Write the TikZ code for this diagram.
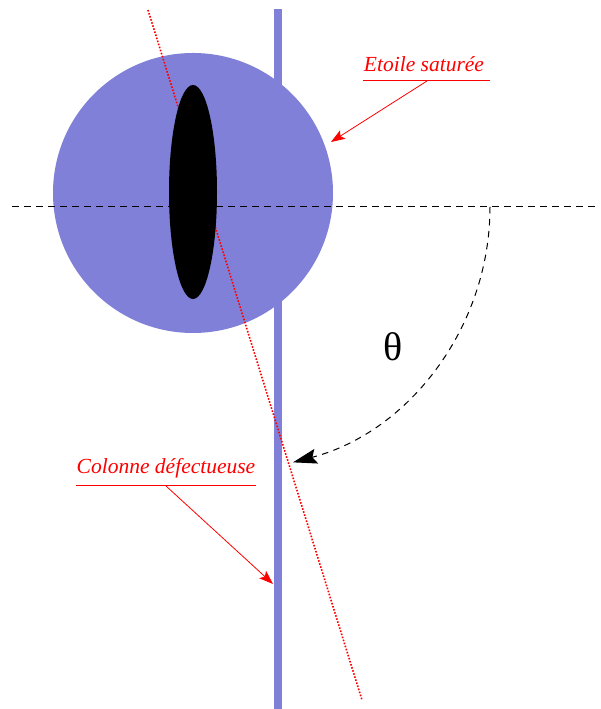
\documentclass[tikz,border=0pt]{standalone}
\usepackage{fontspec}
\setmainfont{Liberation Serif}
\usetikzlibrary{arrows.meta}
\definecolor{starblue}{RGB}{128,128,216}
\tikzset{
  lbl/.style={text=red, font=\fontsize{21.5}{24}\selectfont\itshape, inner sep=0pt},
  ulines/.style={draw=red, line width=1pt},
  pointer/.style={draw=red, line width=0.8pt, -{Stealth[length=14pt,width=10pt,inset=3pt]}},
  refline/.style={draw=black, line width=1pt, dash pattern=on 6.5pt off 5.5pt},
  defect/.style={draw=red, line width=1.6pt, dash pattern=on 1.6pt off 1.6pt}
}
\begin{document}
\begin{tikzpicture}[x=1pt,y=1pt]
\useasboundingbox (0,0) rectangle (601,709);
% column
\fill[starblue] (274,0) rectangle (282,700);
% saturated star
\fill[starblue] (193,516) circle[radius=140];
% defective line
\coordinate (dtop) at (148,699);
\coordinate (dbot) at (362,9);
\draw[defect] (dtop) -- (dbot);
% black ellipse
\fill[black] (193,517) ellipse[x radius=24, y radius=107];
% horizontal reference
\coordinate (hl) at (12,502);
\coordinate (hr) at (598,502);
\draw[refline] (hl) -- (hr);
% angle arc
\coordinate (arcstart) at (490,502);
\draw[refline, -{Stealth[length=24pt,width=15pt,inset=4pt]}] (arcstart) arc[start angle=0, end angle=-75.3, radius=264];
\node[font=\fontsize{40}{42}\selectfont] (theta) at (393,362) {θ};
% labels
\node[lbl] (etoile) at (424,645) {Etoile saturée};
\coordinate (eul) at (363,628);
\coordinate (eur) at (490,628);
\draw[ulines] (eul) -- (eur);
\coordinate (eorig) at (427,628);
\coordinate (etip) at (331,567);
\draw[pointer] (eorig) -- (etip);
\node[lbl] (colonne) at (166,241) {Colonne défectueuse};
\coordinate (cul) at (76,223);
\coordinate (cur) at (256,223);
\draw[ulines] (cul) -- (cur);
\coordinate (corig) at (166,223);
\coordinate (ctip) at (273,125);
\draw[pointer] (corig) -- (ctip);
\end{tikzpicture}
\end{document}
